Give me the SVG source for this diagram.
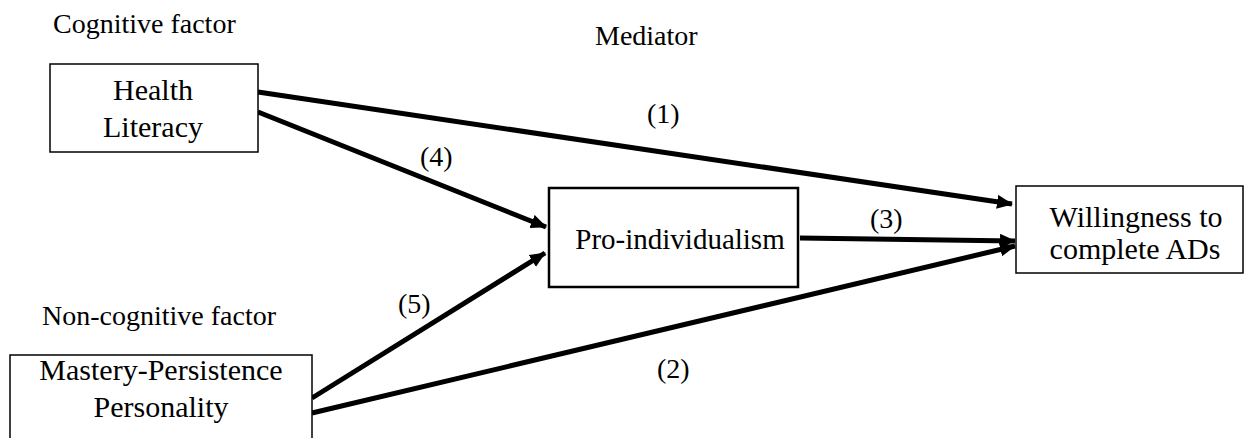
<svg xmlns="http://www.w3.org/2000/svg" width="1244" height="438" viewBox="0 0 1244 438">
<style>
text{font-family:"Liberation Serif","Times New Roman",serif;fill:#000}
.lbl{font-size:28px}
.box{font-size:30px;text-anchor:middle}
.num{font-size:28px}
.node{fill:#fff;stroke:#000}
.edge{stroke:#000;stroke-width:5;fill:none;marker-end:url(#ah)}
</style>
<defs>
<marker id="ah" viewBox="0 0 16 14" refX="15" refY="7" markerWidth="16" markerHeight="14" markerUnits="userSpaceOnUse" orient="auto">
<path d="M0,0 L16,7 L0,14 z" fill="#000"/>
</marker>
</defs>
<rect width="1244" height="438" fill="#fff"/>
<text class="lbl" x="53" y="33">Cognitive factor</text>
<text class="lbl" x="595" y="45">Mediator</text>
<text class="lbl" x="42" y="325">Non-cognitive factor</text>
<g id="connectors">
<line class="edge" x1="258" y1="92" x2="1012" y2="204"/>
<line class="edge" x1="258" y1="112" x2="546" y2="227"/>
<line class="edge" x1="312" y1="398" x2="545" y2="253"/>
<line class="edge" x1="312" y1="413" x2="1015" y2="246"/>
<line class="edge" x1="800" y1="238" x2="1015" y2="241"/>
<text class="num" x="647" y="123">(1)</text>
<text class="num" x="420" y="166">(4)</text>
<text class="num" x="870" y="228">(3)</text>
<text class="num" x="398" y="313">(5)</text>
<text class="num" x="657" y="378">(2)</text>
</g>
<g id="health">
<rect class="node" x="50" y="64" width="208" height="88" stroke-width="1.5"/>
<text class="box" x="153" y="100">Health</text>
<text class="box" x="153" y="137">Literacy</text>
</g>
<g id="pro">
<rect class="node" x="549" y="188" width="249" height="99" stroke-width="2.5"/>
<text class="box" x="680" y="249" style="font-size:29px">Pro-individualism</text>
</g>
<g id="willingness">
<rect class="node" x="1016" y="186" width="227" height="87" stroke-width="1.5"/>
<text class="box" x="1136" y="227">Willingness to</text>
<text class="box" x="1135" y="259">complete ADs</text>
</g>
<g id="mastery">
<rect class="node" x="10" y="355" width="302" height="100" stroke-width="1.5"/>
<text class="box" x="161" y="380">Mastery-Persistence</text>
<text class="box" x="161" y="417">Personality</text>
</g>
</svg>
